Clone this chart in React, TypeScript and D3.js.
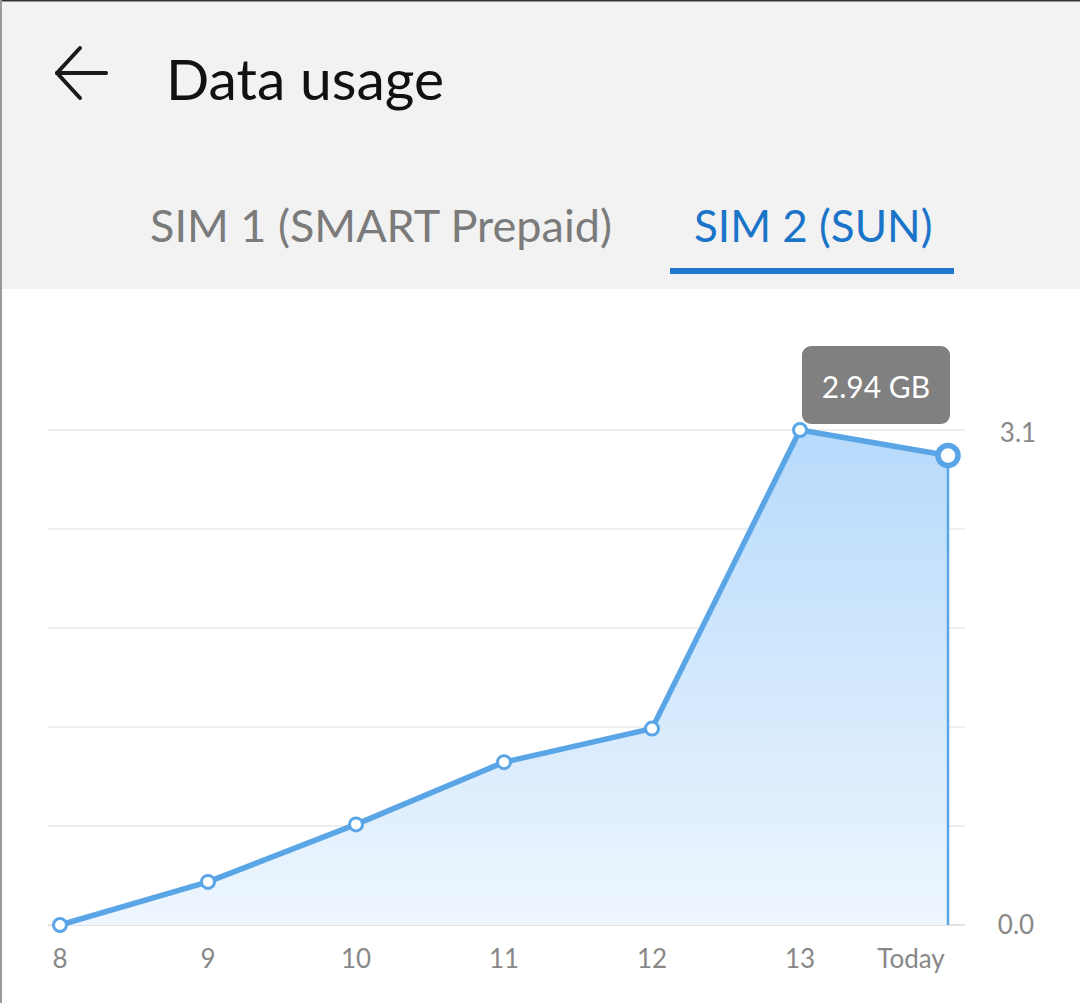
import * as d3 from "d3";

const days = ["8", "9", "10", "11", "12", "13", "Today"];
const usageGb = [0.0, 0.27, 0.63, 1.02, 1.23, 3.1, 2.94];
const yTickLabels = ["3.1", "0.0"];
const gridValues = [0, 0.62, 1.24, 1.86, 2.48, 3.1];
const tabs = ["SIM 1 (SMART Prepaid)", "SIM 2 (SUN)"];

const W = 1080;
const H = 1003;
const FONT = "Lato, 'Noto Sans', sans-serif";

const App = () => {
  const x = d3.scalePoint<string>().domain(days).range([60, 948]);
  const y = d3.scaleLinear().domain([0, 3.1]).range([925, 430]);

  const line = d3
    .line<number>()
    .x((_, i) => x(days[i]) as number)
    .y((d) => y(d));
  const area = d3
    .area<number>()
    .x((_, i) => x(days[i]) as number)
    .y0(y(0))
    .y1((d) => y(d));

  const last = usageGb.length - 1;
  const lastX = x(days[last]) as number;
  const lastY = y(usageGb[last]);

  return (
    <div style={{ position: "absolute", left: 0, top: 0 }}>
      <svg width={W} height={H} style={{ display: "block" }} fontFamily={FONT}>
        <defs>
          <linearGradient id="fillGrad" x1="0" y1="0" x2="0" y2="1">
            <stop offset="0%" stopColor="#b7dafb" />
            <stop offset="100%" stopColor="#eef6fe" />
          </linearGradient>
        </defs>
        <rect x={0} y={0} width={W} height={H} fill="#ffffff" />
        {/* header */}
        <rect x={0} y={0} width={W} height={289} fill="#f2f2f2" />
        <line x1={0} x2={W} y1={0.5} y2={0.5} stroke="#333" strokeWidth={2} />
        <line x1={1} x2={1} y1={0} y2={H} stroke="#9a9a9a" strokeWidth={2} />

        <g stroke="#1a1a1a" strokeWidth={4} fill="none" strokeLinecap="round" strokeLinejoin="round">
          <path d="M57,73 H106" />
          <path d="M80,48 L57,73 L80,98" />
        </g>
        <text x={166} y={100} fontSize={57} fill="#111">
          Data usage
        </text>

        <text x={150} y={242} fontSize={45} fill="#7b7b7b">
          {tabs[0]}
        </text>
        <text x={694} y={242} fontSize={44} fill="#1a74c8">
          {tabs[1]}
        </text>
        <rect x={670} y={268} width={284} height={6} fill="#1f77cf" />

        {/* grid */}
        {gridValues.map((v) => (
          <line
            key={v}
            x1={48}
            x2={965}
            y1={y(v)}
            y2={y(v)}
            stroke={v === 0 ? "#e2e2e2" : "#eeeeee"}
            strokeWidth={2}
          />
        ))}

        {/* area + line */}
        <path d={area(usageGb) ?? ""} fill="url(#fillGrad)" />
        <line x1={lastX} x2={lastX} y1={lastY} y2={y(0)} stroke="#5aa5e6" strokeWidth={2.5} />
        <path d={line(usageGb) ?? ""} fill="none" stroke="#5aa5e6" strokeWidth={5.5} strokeLinejoin="round" />
        {usageGb.map((d, i) =>
          i === last ? (
            <circle key={i} cx={x(days[i])} cy={y(d)} r={10} fill="#fff" stroke="#5aa5e6" strokeWidth={5.5} />
          ) : (
            <circle key={i} cx={x(days[i])} cy={y(d)} r={6.5} fill="#fff" stroke="#5aa5e6" strokeWidth={3} />
          )
        )}

        {/* tooltip */}
        <rect x={802} y={346} width={148} height={78} rx={9} fill="#808080" />
        <text x={876} y={398} fontSize={30} fill="#fff" textAnchor="middle">
          {`${usageGb[last].toFixed(2)} GB`}
        </text>

        {/* y labels */}
        <text x={1018} y={y(3.1) + 12} fontSize={26} fill="#888" textAnchor="middle">
          {yTickLabels[0]}
        </text>
        <text x={1016} y={y(0) + 9} fontSize={26} fill="#888" textAnchor="middle">
          {yTickLabels[1]}
        </text>

        {/* x labels */}
        {days.map((d, i) => (
          <text
            key={d}
            x={i === last ? 911 : (x(d) as number)}
            y={968}
            fontSize={26}
            fill="#888"
            textAnchor="middle"
          >
            {d}
          </text>
        ))}
      </svg>
    </div>
  );
};

export default App;
